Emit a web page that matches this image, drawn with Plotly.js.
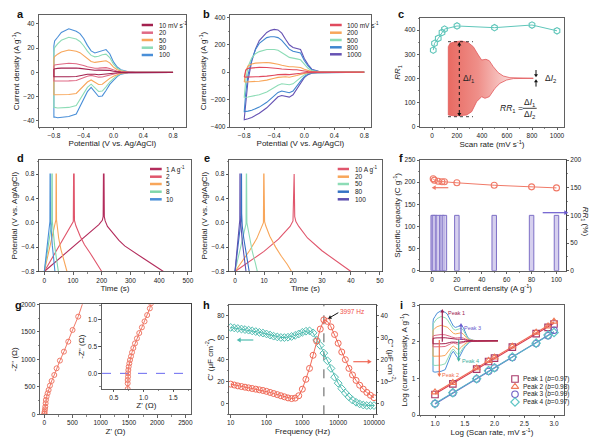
<!DOCTYPE html>
<html>
<head>
<meta charset="utf-8">
<script src="https://cdn.plot.ly/plotly-3.0.1.min.js"></script>
<style>
html,body{margin:0;padding:0;background:#fff;}
#chart{width:600px;height:441px;}
</style>
</head>
<body>
<div id="chart"></div>
<script>
// ================= DATA =================
// (a) CV at 10-100 mV/s
const potA = [-0.8, -0.79, -0.75, -0.7, -0.6, -0.5, -0.45, -0.4, -0.35, -0.3, -0.25, -0.2, -0.15, -0.1, -0.05, 0.0, 0.05, 0.1, 0.2, 0.3, 0.8];
const a100Up = [22, 26, 29, 33, 36, 34, 32, 28, 22.3, 17.7, 16, 16.8, 18.2, 18.8, 15.4, 8.6, 4.4, 2.2, 0.5, 0, 0];
const a100Dn = [-37, -37, -37.5, -37.5, -36.5, -34.5, -29, -22, -16, -12.5, -16, -20, -19.5, -15, -10, -6.6, -3.5, -1.5, -0.3, 0, 0];
const a80Up = [17, 20.5, 23.5, 26.5, 29, 27.5, 25.5, 22, 17.5, 14, 12.8, 13.3, 14.5, 15, 12.2, 6.8, 3.4, 1.7, 0.3, 0, 0];
const a80Dn = [-29, -29, -29.5, -29.5, -29, -27.5, -23, -17.5, -12.5, -9.8, -12.5, -15.8, -15.5, -12, -8, -5.2, -2.7, -1.1, -0.2, 0, 0];
const a50Up = [11.5, 13, 15, 16.8, 18.5, 17.5, 16.3, 14, 11.2, 9, 8.2, 8.5, 9.3, 9.6, 7.8, 4.3, 2.2, 1.0, 0.2, 0, 0];
const a50Dn = [-18.5, -18.5, -18.7, -18.7, -18.3, -17.5, -14.7, -11.2, -8, -6.3, -8, -10, -9.8, -7.6, -5, -3.3, -1.7, -0.7, -0.1, 0, 0];
const a20Up = [5.5, 6, 6.5, 7, 7.5, 7.1, 6.6, 5.7, 4.6, 3.7, 3.4, 3.5, 3.8, 3.9, 3.2, 1.8, 0.9, 0.4, 0.1, 0, 0];
const a20Dn = [-7.2, -7.2, -7.3, -7.3, -7.1, -6.8, -5.8, -4.4, -3.2, -2.5, -3.2, -4, -3.9, -3, -2, -1.3, -0.7, -0.3, 0, 0, 0];
const a10Up = [2.8, 3.0, 3.3, 3.5, 3.8, 3.6, 3.3, 2.9, 2.3, 1.9, 1.7, 1.8, 1.9, 2.0, 1.6, 0.9, 0.5, 0.2, 0, 0, 0];
const a10Dn = [-3.6, -3.6, -3.7, -3.7, -3.6, -3.4, -2.9, -2.2, -1.6, -1.3, -1.6, -2, -2, -1.5, -1, -0.7, -0.4, -0.2, 0, 0, 0];
const legA = ["10 mV s<sup>-1</sup>", "20", "50", "80", "100"];

// (b) CV at 100-1000 mV/s
const potB = [-0.8, -0.78, -0.75, -0.7, -0.65, -0.6, -0.5, -0.45, -0.4, -0.35, -0.3, -0.25, -0.2, -0.15, -0.1, -0.05, 0.0, 0.05, 0.1, 0.2, 0.3, 0.8];
const b1000Up = [-340, -200, -60, 80, 170, 230, 290, 305, 312, 308, 285, 240, 200, 180, 175, 165, 100, 55, 22, 4, 0, 0];
const b1000Dn = [-348, -345, -340, -330, -318, -300, -260, -235, -205, -180, -170, -178, -182, -165, -125, -80, -40, -18, -7, -1, 0, 0];
const b800Up = [-285, -150, -20, 90, 165, 210, 252, 258, 258, 252, 232, 200, 168, 152, 148, 140, 85, 45, 18, 3, 0, 0];
const b800Dn = [-288, -287, -284, -278, -268, -255, -220, -200, -172, -148, -138, -145, -150, -138, -102, -65, -32, -14, -5, -1, 0, 0];
const b500Up = [-182, -60, 40, 105, 135, 150, 165, 167, 165, 160, 145, 125, 108, 100, 97, 90, 55, 28, 11, 2, 0, 0];
const b500Dn = [-183, -183, -181, -178, -172, -165, -145, -132, -112, -95, -85, -88, -92, -85, -63, -40, -20, -8, -3, 0, 0, 0];
const b200Up = [-72, 10, 45, 60, 66, 69, 70, 68, 64, 58, 50, 43, 40, 39, 38, 34, 22, 10, 4, 0.5, 0, 0];
const b200Dn = [-72, -72, -72, -71, -69, -66, -58, -52, -45, -38, -33, -33, -37, -33, -25, -16, -8, -3, -1, 0, 0, 0];
const b100Up = [-36, 15, 28, 32, 34, 35, 34, 33, 30, 27, 23, 20, 18.5, 18, 17.5, 15, 9, 4, 1.5, 0, 0, 0];
const b100Dn = [-36, -36, -35.5, -35, -34, -32.5, -29, -26, -22, -18, -15.5, -16, -18, -16, -12, -8, -4, -1.5, -0.5, 0, 0, 0];
const legB = ["100 mV s<sup>-1</sup>", "200", "500", "800", "1000"];

// (c) RR1 vs scan rate + schematic outline
const scanRates = [10, 20, 50, 80, 100, 200, 500, 800, 1000];
const rr1 = [317, 345, 366, 390, 404, 417, 410, 421, 397];
const schemUpX = [0, 2, 7.9, 15.7, 23.5, 29.4, 35.3, 39.2, 44.3, 48.2, 52.9, 58.8, 64.7, 72.5, 100];
const schemUpY = [31.6, 35, 36.6, 37.3, 35.6, 31.6, 23.3, 18.3, 19, 17.6, 11.6, 5.6, 2.3, 0.6, 0];
const schemDnX = [0, 7.9, 21.6, 27.5, 33.3, 39.2, 43.1, 48.2, 54.9, 60.8, 68.6, 76.5, 100];
const schemDnY = [-36.7, -37.7, -36.7, -33.4, -23.4, -18.4, -20, -18.4, -10, -5, -1.7, -0.3, 0];

// (d) GCD 1-10 A/g
const d1T = [0, 50, 100, 150, 190, 202, 205, 206, 208, 209, 212, 220, 240, 260, 280, 310, 350, 415];
const d1V = [-0.8, -0.6, -0.39, -0.19, -0.03, 0.04, 0.1, 0.8, 0.8, 0.1, 0.03, -0.06, -0.18, -0.29, -0.38, -0.47, -0.6, -0.8];
const d2T = [0, 25, 50, 75, 95, 101, 102, 104, 105, 110, 125, 140, 160, 180, 200];
const d2V = [-0.8, -0.6, -0.4, -0.2, -0.04, 0.02, 0.8, 0.8, 0.04, -0.05, -0.22, -0.36, -0.5, -0.64, -0.8];
const d5T = [0, 10, 20, 30, 38, 40.5, 41, 42, 42.5, 45, 50, 58, 68, 79];
const d5V = [-0.8, -0.6, -0.4, -0.2, -0.03, 0.05, 0.8, 0.8, 0.05, -0.08, -0.25, -0.44, -0.61, -0.8];
const d8T = [0, 7, 14, 21, 26, 26.5, 27.5, 28, 31, 36, 42, 49];
const d8V = [-0.8, -0.6, -0.4, -0.18, 0.0, 0.8, 0.8, 0.02, -0.17, -0.38, -0.58, -0.8];
const d10T = [0, 5, 10, 15, 19.5, 20, 21, 21.5, 24, 28, 32, 37];
const d10V = [-0.8, -0.6, -0.4, -0.19, 0.02, 0.8, 0.8, 0.05, -0.15, -0.38, -0.56, -0.8];
const legD = ["1 A g<sup>-1</sup>", "2", "5", "8", "10"];

// (e) GCD 10-100 A/g
const e10T = [0, 5, 10, 15, 19, 20, 20.2, 20.4, 20.6, 21, 22, 25, 30, 35, 40];
const e10V = [-0.8, -0.64, -0.47, -0.27, -0.06, 0.03, 0.8, 0.8, 0.1, 0.02, -0.06, -0.25, -0.46, -0.63, -0.8];
const e20T = [0, 2.5, 5, 7.5, 9.4, 9.8, 9.9, 10.0, 10.2, 10.6, 12, 14, 16, 18, 19.5];
const e20V = [-0.8, -0.63, -0.46, -0.26, -0.06, 0.0, 0.8, 0.8, 0.02, -0.05, -0.22, -0.4, -0.55, -0.68, -0.8];
const e50T = [0, 1, 2, 3, 3.8, 3.9, 4.0, 4.1, 4.3, 5, 6, 7, 7.7];
const e50V = [-0.8, -0.6, -0.4, -0.2, -0.02, 0.8, 0.8, 0.0, -0.05, -0.25, -0.48, -0.66, -0.8];
const e80T = [0, 0.6, 1.2, 1.8, 2.1, 2.15, 2.25, 2.3, 2.5, 3, 3.5, 4.2, 4.9];
const e80V = [-0.8, -0.58, -0.35, -0.12, 0.05, 0.8, 0.8, 0.15, -0.05, -0.25, -0.42, -0.6, -0.8];
const e100T = [0, 0.5, 1.0, 1.4, 1.65, 1.7, 1.75, 1.8, 2.0, 2.5, 3.0, 3.8];
const e100V = [-0.8, -0.56, -0.32, -0.1, 0.05, 0.8, 0.8, 0.1, -0.08, -0.3, -0.5, -0.8];
const legE = ["10 A g<sup>-1</sup>", "20", "50", "80", "100"];

// (f) specific capacity & RR1
const currDens = [1, 2, 5, 8, 10, 20, 50, 80, 100];
const specCap = [207.6, 204.5, 202, 201, 201, 198.5, 193, 189.4, 187];
const rrPct = [100, 100, 100, 100, 100, 100, 100, 100, 100];

// (g) Nyquist
const zRe = [1, 4, 6, 12, 18, 24, 29, 41, 59, 77, 100, 130, 177, 218, 277, 348, 425, 501, 601, 740];
const zIm = [6, 18, 48, 91, 139, 200, 261, 321, 382, 442, 521, 606, 715, 836, 976, 1139, 1321, 1533, 1776, 2200];
const zReIn = [0.733, 0.733, 0.733, 0.739, 0.739, 0.744, 0.75, 0.761, 0.772, 0.789, 0.806, 0.828, 0.856, 0.889, 0.928, 0.972, 1.017, 1.061, 1.106, 1.128];
const zImIn = [-0.29, -0.185, -0.123, -0.062, 0.0, 0.062, 0.123, 0.185, 0.247, 0.315, 0.389, 0.469, 0.556, 0.648, 0.747, 0.852, 0.963, 1.080, 1.204, 1.30];

// (h) capacitance vs frequency
const freqH = [10, 12.6, 15.8, 20, 25.1, 31.6, 39.8, 50.1, 63.1, 79.4, 100, 126, 158, 200, 251, 316, 398, 501, 631, 794, 1000, 1259, 1585, 1995, 2512, 3162, 3981, 5012, 6310, 7943, 10000, 12589, 15849, 19953, 25119, 31623, 39811, 50119, 63096, 79433, 100000];
const cReal = [69.5, 69, 68.5, 68, 67.5, 67, 66.3, 65.7, 65, 64.3, 63.5, 62.5, 61.5, 60.8, 60.3, 60.2, 60.5, 61.2, 62.2, 63.5, 65, 66, 66.3, 64.5, 58, 53, 46, 39, 32, 24, 18.5, 13.5, 9.5, 6, 3, 1, -0.5, -1.5, -2, -2, -2];
const cImag = [8.8, 8.4, 8.0, 7.7, 7.4, 7.1, 6.8, 6.5, 6.2, 5.9, 5.5, 5.0, 4.5, 4.0, 3.5, 3.0, 2.5, 2.2, 2.4, 3.5, 6.5, 11, 16, 22, 28.5, 34, 38.2, 37.5, 35, 31.5, 27.5, 23.5, 20, 16, 13, 10.5, 8.3, 6.5, 5, 3.7, 2.6];
const peakFreq = 3997;

// (i) b-value analysis
const logScan = [1.0, 1.3, 1.7, 1.9, 2.0, 2.3, 2.7, 2.9, 3.0];
const peak1 = [0.56, 0.85, 1.25, 1.46, 1.55, 1.85, 2.22, 2.39, 2.48];
const peak2 = [0.62, 0.88, 1.28, 1.48, 1.57, 1.87, 2.25, 2.42, 2.55];
const peak3 = [0.31, 0.60, 0.98, 1.19, 1.28, 1.57, 1.95, 2.16, 2.31];
const peak4 = [0.31, 0.61, 0.99, 1.21, 1.29, 1.58, 1.96, 2.18, 2.25];
const peakLabels = ["Peak 1 (<i>b</i>=0.97)", "Peak 2 (<i>b</i>=0.98)", "Peak 3 (<i>b</i>=0.99)", "Peak 4 (<i>b</i>=0.97)"];

// ================= STYLE / HELPERS =================
const W = 600, H = 441;
const FONT = 'Liberation Sans, Arial, Helvetica, sans-serif';
const AXC = '#3a3a3a';
const TXT = '#222';
const dx = (a, b) => [a / W, b / W];
const dy = (top, bot) => [1 - bot / H, 1 - top / H];

function axis(o) {
  const r = {
    showline: true, linecolor: AXC, linewidth: 0.8, mirror: true,
    ticks: 'outside', ticklen: 2.5, tickwidth: 0.8, tickcolor: AXC,
    tickfont: {size: 6.5, color: TXT, family: FONT},
    showgrid: false, zeroline: false, automargin: false, fixedrange: true
  };
  for (const k in o) {
    if (k === 'titleText' || k === 'standoff' || k === 'minorDtick') continue;
    r[k] = o[k];
  }
  if (o.titleText !== undefined) r.title = {text: o.titleText, font: {size: 8, color: TXT, family: FONT}, standoff: o.standoff !== undefined ? o.standoff : 2};
  if (o.minorDtick !== undefined) r.minor = {dtick: o.minorDtick, ticks: 'outside', ticklen: 1.5, tickwidth: 0.6, tickcolor: AXC, showgrid: false};
  return r;
}
function hidden(domX, domY, rx, ry) {
  return [{domain: domX, range: rx, visible: false, fixedrange: true}, {domain: domY, range: ry, visible: false, fixedrange: true}];
}

const data = [];
function loop(E, up, dn, color, xa, ya, w) {
  data.push({type: 'scatter', mode: 'lines', x: [...E, ...E.slice().reverse(), E[0]], y: [...up, ...dn.slice().reverse(), up[0]],
    xaxis: xa, yaxis: ya, line: {color: color, width: w || 1.1}, hoverinfo: 'skip', showlegend: false});
}
function line(x, y, color, xa, ya, w) {
  data.push({type: 'scatter', mode: 'lines', x: x, y: y, xaxis: xa, yaxis: ya, line: {color: color, width: w || 1.1}, hoverinfo: 'skip', showlegend: false});
}

const annotations = [];
const shapes = [];
const PX = (x, y) => (x / W) + ' ' + (1 - y / H);
function txt(text, x, y, o) {
  annotations.push(Object.assign({text: text, x: x / W, y: 1 - y / H, xref: 'paper', yref: 'paper', showarrow: false,
    font: {family: FONT, size: 6.5, color: TXT}, xanchor: 'center', yanchor: 'middle'}, o || {}));
}
function seg(x0, y0, x1, y1, color, w, dash) {
  shapes.push({type: 'line', xref: 'paper', yref: 'paper', x0: x0 / W, x1: x1 / W, y0: 1 - y0 / H, y1: 1 - y1 / H,
    line: {color: color, width: w || 1, dash: dash || 'solid'}});
}
function head(xt, yt, ux, uy, color, hl, hw) {
  const bx = xt - ux * hl, by = yt - uy * hl, nx = -uy, ny = ux;
  shapes.push({type: 'path', xref: 'paper', yref: 'paper',
    path: 'M ' + PX(xt, yt) + ' L ' + PX(bx + nx * hw, by + ny * hw) + ' L ' + PX(bx - nx * hw, by - ny * hw) + ' Z',
    fillcolor: color, line: {width: 0}});
}
function arr(x0, y0, x1, y1, color, w, hl, hw) {
  hl = hl || 4; hw = hw || 2.4;
  const L = Math.hypot(x1 - x0, y1 - y0), ux = (x1 - x0) / L, uy = (y1 - y0) / L;
  seg(x0, y0, x1 - ux * hl * 0.8, y1 - uy * hl * 0.8, color, w || 1);
  head(x1, y1, ux, uy, color, hl, hw);
}
function legendLines(labels, colors, xl0, xl1, xt, rows, lw) {
  labels.forEach((lab, i) => {
    seg(xl0, rows[i], xl1, rows[i], colors[i], lw || 2.5);
    txt(lab, xt, rows[i], {xanchor: 'left'});
  });
}

// ================= TRACES =================
const colA = ['#a3214f', '#e06a85', '#f8a65a', '#8ddcb6', '#4a8fd8'];
const colB = ['#e04a5e', '#f8a65a', '#8ddcb6', '#3f86cf', '#6652b3'];
const colD = ['#b32c5c', '#e0566c', '#f8a65a', '#7fd6aa', '#4a8fd8'];
const colE = ['#e0566c', '#f8a65a', '#8ddcb6', '#3572c4', '#5e50b0'];

// (a)
loop(potA, a100Up, a100Dn, colA[4], 'x', 'y');
loop(potA, a80Up, a80Dn, colA[3], 'x', 'y');
loop(potA, a50Up, a50Dn, colA[2], 'x', 'y');
loop(potA, a20Up, a20Dn, colA[1], 'x', 'y');
loop(potA, a10Up, a10Dn, colA[0], 'x', 'y');
// (b)
loop(potB, b1000Up, b1000Dn, colB[4], 'x2', 'y2');
loop(potB, b800Up, b800Dn, colB[3], 'x2', 'y2');
loop(potB, b500Up, b500Dn, colB[2], 'x2', 'y2');
loop(potB, b200Up, b200Dn, colB[1], 'x2', 'y2');
loop(potB, b100Up, b100Dn, colB[0], 'x2', 'y2');
// (c) schematic + RR1
data.push({type: 'scatter', mode: 'lines', xaxis: 'x13', yaxis: 'y13', hoverinfo: 'skip', showlegend: false,
  x: [...schemUpX, ...schemDnX.slice().reverse(), schemUpX[0]],
  y: [...schemUpY, ...schemDnY.slice().reverse(), schemUpY[0]],
  fill: 'toself', fillcolor: '#f29a94',
  fillgradient: {type: 'horizontal', colorscale: [[0, '#e86a62'], [0.35, '#ef8f89'], [0.7, '#f9d2d0'], [1, '#fdeeee']]},
  line: {color: '#e2585a', width: 0.8}});
data.push({type: 'scatter', mode: 'lines+markers', x: scanRates, y: rr1, xaxis: 'x3', yaxis: 'y3', hoverinfo: 'skip', showlegend: false,
  line: {color: '#5fc6ba', width: 1}, marker: {symbol: 'hexagon-open', size: 6.5, color: '#5fc6ba', line: {width: 1.1}}});
// (d)
line(d1T, d1V, colD[0], 'x4', 'y4');
line(d2T, d2V, colD[1], 'x4', 'y4');
line(d5T, d5V, colD[2], 'x4', 'y4');
line(d8T, d8V, colD[3], 'x4', 'y4');
line(d10T, d10V, colD[4], 'x4', 'y4');
// (e)
line(e10T, e10V, colE[0], 'x5', 'y5');
line(e20T, e20V, colE[1], 'x5', 'y5');
line(e50T, e50V, colE[2], 'x5', 'y5');
line(e80T, e80V, colE[3], 'x5', 'y5');
line(e100T, e100V, colE[4], 'x5', 'y5');
// (f)
data.push({type: 'bar', x: currDens, y: rrPct, xaxis: 'x6', yaxis: 'y10', width: 3.6, hoverinfo: 'skip', showlegend: false,
  marker: {color: 'rgba(200,192,232,0.75)', line: {color: '#7d6fc6', width: 1}}});
data.push({type: 'scatter', mode: 'lines+markers', x: currDens, y: specCap, xaxis: 'x6', yaxis: 'y6', hoverinfo: 'skip', showlegend: false,
  line: {color: '#f07a68', width: 1}, marker: {symbol: 'circle-open', size: 6, color: '#f07a68', line: {width: 1.1}}});
// (g)
data.push({type: 'scatter', mode: 'lines+markers', x: zRe, y: zIm, xaxis: 'x7', yaxis: 'y7', hoverinfo: 'skip', showlegend: false,
  line: {color: '#f07a68', width: 1}, marker: {symbol: 'circle-open', size: 5, color: '#f07a68', line: {width: 1}}});
data.push({type: 'scatter', mode: 'lines', x: [0.3, 1.8], y: [0, 0], xaxis: 'x12', yaxis: 'y12', hoverinfo: 'skip', showlegend: false,
  line: {color: '#6a6af0', width: 1, dash: 'dash'}});
data.push({type: 'scatter', mode: 'lines+markers', x: zReIn, y: zImIn, xaxis: 'x12', yaxis: 'y12', hoverinfo: 'skip', showlegend: false,
  line: {color: '#f07a68', width: 1}, marker: {symbol: 'circle-open', size: 5, color: '#f07a68', line: {width: 1}}});
// (h)
data.push({type: 'scatter', mode: 'lines', x: [peakFreq, peakFreq], y: [-10, 90], xaxis: 'x8', yaxis: 'y8', hoverinfo: 'skip', showlegend: false,
  line: {color: '#444', width: 0.9, dash: 'dash'}});
data.push({type: 'scatter', mode: 'lines+markers', x: freqH, y: cReal, xaxis: 'x8', yaxis: 'y8', hoverinfo: 'skip', showlegend: false,
  line: {color: '#4fbcb0', width: 1}, marker: {symbol: 'diamond-open', size: 6, color: '#4fbcb0', line: {width: 1}}});
data.push({type: 'scatter', mode: 'lines+markers', x: freqH, y: cImag, xaxis: 'x8', yaxis: 'y11', hoverinfo: 'skip', showlegend: false,
  line: {color: '#f06a58', width: 1}, marker: {symbol: 'circle-open', size: 6, color: '#f06a58', line: {width: 1}}});
// (i) fits + points
function fit(xs, ys) {
  const n = xs.length; let sx = 0, sy = 0, sxx = 0, sxy = 0;
  for (let k = 0; k < n; k++) { sx += xs[k]; sy += ys[k]; sxx += xs[k] * xs[k]; sxy += xs[k] * ys[k]; }
  const m = (n * sxy - sx * sy) / (n * sxx - sx * sx); const b = (sy - m * sx) / n;
  return [m * xs[0] + b, m * xs[n - 1] + b];
}
const peaks = [peak1, peak2, peak3, peak4];
const pkSym = ['square-open', 'triangle-up-open', 'circle-open', 'diamond-open'];
const pkCol = ['#a8386a', '#f07a5a', '#6c5cc4', '#5cc4c4'];
const fitCol = ['#d83a50', '#f06a55', '#6a66c4', '#58b6c8'];
peaks.forEach((p, k) => {
  line([logScan[0], logScan[logScan.length - 1]], fit(logScan, p), fitCol[k], 'x9', 'y9', 1.1);
});
peaks.forEach((p, k) => {
  data.push({type: 'scatter', mode: 'markers', x: logScan, y: p, xaxis: 'x9', yaxis: 'y9', hoverinfo: 'skip', showlegend: false,
    marker: {symbol: pkSym[k], size: 6.5, color: pkCol[k], line: {width: 1.1}}});
});
// (i) inset: reuse panel (a) CVs
loop(potA, a100Up, a100Dn, colA[4], 'x14', 'y14', 1);
loop(potA, a80Up, a80Dn, colA[3], 'x14', 'y14', 1);
loop(potA, a50Up, a50Dn, colA[2], 'x14', 'y14', 1);
loop(potA, a20Up, a20Dn, colA[1], 'x14', 'y14', 1);
loop(potA, a10Up, a10Dn, colA[0], 'x14', 'y14', 1);
// (i) legend markers (pixel overlay)
const legRowsI = [379, 386.7, 394.3, 402];
peaks.forEach((p, k) => {
  data.push({type: 'scatter', mode: 'markers', x: [515], y: [legRowsI[k]], xaxis: 'x15', yaxis: 'y15', hoverinfo: 'skip', showlegend: false,
    marker: {symbol: pkSym[k], size: 6.5, color: pkCol[k], line: {width: 1.1}}});
  txt(peakLabels[k], 520.5, legRowsI[k], {xanchor: 'left'});
});

// ================= LEGENDS / ANNOTATIONS =================
legendLines(legA, colA, 141.7, 153, 156.7, [25, 32.7, 40, 47.7, 55]);
legendLines(legB, colB, 330, 341.7, 345, [25, 32.7, 40, 47.3, 54.3]);
legendLines(legD, colD, 150, 161.7, 164, [169, 176.7, 184, 191.7, 199.3]);
legendLines(legE, colE, 337.7, 349, 353, [169, 176.7, 184, 191.7, 199.3]);

// panel letters
[['a', 20.7, 14], ['b', 206.7, 14], ['c', 401, 14], ['d', 20, 157.7], ['e', 206.7, 157.7], ['f', 401, 157.7],
 ['g', 18.3, 305], ['h', 207, 305], ['i', 401, 305]].forEach(l => txt('<b>' + l[0] + '</b>', l[1], l[2], {font: {family: FONT, size: 11, color: '#111'}}));

// (c) schematic annotations
seg(459.3, 44, 459.3, 114.5, '#111', 1, 'dot');
seg(448, 41.7, 473, 41.7, '#111', 0.8, 'dot');
seg(448, 116.7, 473, 116.7, '#111', 0.8, 'dot');
head(459.3, 41.9, 0, -1, '#111', 3.5, 2);
head(459.3, 116.5, 0, 1, '#111', 3.5, 2);
txt('Δ<i>I</i><sub>1</sub>', 468.5, 78.3, {font: {family: FONT, size: 8.5, color: TXT}});
arr(536, 70, 536, 77.3, '#111', 1, 3, 2);
arr(536, 86.6, 536, 79.3, '#111', 1, 3, 2);
txt('Δ<i>I</i><sub>2</sub>', 550, 78.3, {font: {family: FONT, size: 8.5, color: TXT}});
txt('<i>RR</i><sub>1</sub> =', 511.5, 108.3, {font: {family: FONT, size: 8.5, color: TXT}});
txt('Δ<i>I</i><sub>1</sub>', 529.5, 102.5, {font: {family: FONT, size: 8.5, color: TXT}});
seg(522.7, 108.3, 536.7, 108.3, '#111', 0.8);
txt('Δ<i>I</i><sub>2</sub>', 529.5, 114.5, {font: {family: FONT, size: 8.5, color: TXT}});

// (f) arrows + right title
arr(448.3, 187.7, 431.7, 187.7, '#f07a68', 1.2);
arr(542.7, 212.7, 568.3, 212.7, '#6a5acd', 1.2);
txt('<i>RR</i><sub>1</sub> (%)', 585, 221.7, {textangle: 90, font: {family: FONT, size: 8, color: TXT}});

// (h) arrows + labels + right title
arr(253.3, 340, 236.7, 340, '#4fbcb0', 1.2);
arr(353.3, 361.7, 371.7, 361.7, '#f06a58', 1.2);
arr(338.3, 312.7, 328, 318.7, '#111', 1, 3.5, 2);
txt('3997 Hz', 351.7, 311.5, {font: {family: FONT, size: 6.5, color: '#f0504a'}});
txt("C'' (μF cm<sup>-2</sup>)", 391.5, 360, {textangle: 90, font: {family: FONT, size: 8, color: TXT}});

// (i) inset arrows + labels
arr(442.3, 341.7, 442.3, 309, '#9c2050', 1.2, 3.5, 2);
arr(439.3, 340, 439.3, 377, '#f07050', 1.2, 3.5, 2);
arr(461, 340, 461, 323, '#6a5acd', 1.2, 3.5, 2);
arr(458.7, 340, 458.7, 361.7, '#40b0a0', 1.2, 3.5, 2);
txt('Peak 1', 456, 312.7, {font: {family: FONT, size: 5.5, color: '#9c2050'}});
txt('Peak 2', 450, 375, {font: {family: FONT, size: 5.5, color: '#f07050'}});
txt('Peak 3', 472, 327.7, {font: {family: FONT, size: 5.5, color: '#6a5acd'}});
txt('Peak 4', 470.5, 360.7, {font: {family: FONT, size: 5.5, color: '#40b0a0'}});

// ================= LAYOUT =================
const ttlCD = 'Current density (A g<sup>-1</sup>)';
const ttlPot = 'Potential (V vs. Ag/AgCl)';
const layout = {
  width: W, height: H, margin: {l: 0, r: 0, t: 0, b: 0},
  paper_bgcolor: '#fff', plot_bgcolor: 'rgba(0,0,0,0)',
  font: {family: FONT, color: TXT}, showlegend: false, dragmode: false,
  // a
  xaxis: axis({domain: dx(39, 185.7), anchor: 'y', range: [-1.0, 0.97], tickvals: [-0.8, -0.4, 0, 0.4, 0.8], tickformat: '.1f', minorDtick: 0.2, titleText: ttlPot}),
  yaxis: axis({domain: dy(15, 127), anchor: 'x', range: [-45.2, 47.4], dtick: 20, minorDtick: 10, titleText: ttlCD}),
  // b
  xaxis2: axis({domain: dx(230, 370.7), anchor: 'y2', range: [-0.99, 0.885], tickvals: [-0.8, -0.4, 0, 0.4, 0.8], tickformat: '.1f', minorDtick: 0.2, titleText: ttlPot}),
  yaxis2: axis({domain: dy(15, 127), anchor: 'x2', range: [-400, 417], dtick: 200, minorDtick: 100, titleText: ttlCD}),
  // c
  xaxis3: axis({domain: dx(420, 564), anchor: 'y3', range: [-96, 1056], dtick: 200, minorDtick: 100, titleText: 'Scan rate (mV s<sup>-1</sup>)'}),
  yaxis3: axis({domain: dy(18, 126.7), anchor: 'x3', range: [0, 450], dtick: 100, minorDtick: 50, titleText: '<i>RR</i><sub>1</sub>'}),
  // d
  xaxis4: axis({domain: dx(39, 191), anchor: 'y4', range: [-18.5, 511], dtick: 100, minorDtick: 50, titleText: 'Time (s)'}),
  yaxis4: axis({domain: dy(160, 271.5), anchor: 'x4', range: [-0.8, 1.03], tickvals: [-0.8, -0.4, 0, 0.4, 0.8], tickformat: '.1f', minorDtick: 0.2, titleText: ttlPot}),
  // e
  xaxis5: axis({domain: dx(229, 382), anchor: 'y5', range: [-2.07, 50.7], dtick: 10, minorDtick: 5, titleText: 'Time (s)'}),
  yaxis5: axis({domain: dy(160, 271.5), anchor: 'x5', range: [-0.8, 1.03], tickvals: [-0.8, -0.4, 0, 0.4, 0.8], tickformat: '.1f', minorDtick: 0.2, titleText: ttlPot}),
  // f
  xaxis6: axis({domain: dx(420, 565.7), anchor: 'y6', range: [-9.6, 107.4], dtick: 20, minorDtick: 10, titleText: ttlCD}),
  yaxis6: axis({domain: dy(160, 270.7), anchor: 'x6', range: [0, 250], dtick: 50, minorDtick: 25, titleText: 'Specific capacity (C g<sup>-1</sup>)'}),
  yaxis10: axis({domain: dy(160, 270.7), anchor: 'x6', overlaying: 'y6', side: 'right', range: [0, 200], dtick: 50, minorDtick: 25, mirror: false}),
  // g
  xaxis7: axis({domain: dx(40, 191), anchor: 'y7', range: [-76, 2600], dtick: 500, minorDtick: 250, titleText: "Z' (Ω)"}),
  yaxis7: axis({domain: dy(304.3, 414.3), anchor: 'x7', range: [0, 2000], dtick: 500, minorDtick: 250, titleText: "-Z'' (Ω)"}),
  xaxis12: axis({domain: dx(101.7, 191), anchor: 'y12', range: [0.295, 1.8], tickvals: [0.5, 1.0, 1.5], tickformat: '.1f', minorDtick: 0.25, titleText: "Z' (Ω)"}),
  yaxis12: axis({domain: dy(304.3, 389), anchor: 'x12', range: [-0.29, 1.28], tickvals: [0, 0.5, 1.0], tickformat: '.1f', minorDtick: 0.25, titleText: "-Z'' (Ω)"}),
  // h
  xaxis8: axis({domain: dx(229, 376), anchor: 'y8', type: 'log', range: [0.953, 5.056], tickvals: [10, 100, 1000, 10000, 100000], ticktext: ['10', '100', '1000', '10000', '100000'], titleText: 'Frequency (Hz)'}),
  yaxis8: axis({domain: dy(305, 414.3), anchor: 'x8', range: [-10, 90], dtick: 20, minorDtick: 10, titleText: "C' (μF cm<sup>-2</sup>)"}),
  yaxis11: axis({domain: dy(305, 414.3), anchor: 'x8', overlaying: 'y8', side: 'right', range: [-5, 45], dtick: 10, minorDtick: 5, mirror: false}),
  // i
  xaxis9: axis({domain: dx(420, 564), anchor: 'y9', range: [0.748, 3.168], tickvals: [1.0, 1.5, 2.0, 2.5, 3.0], tickformat: '.1f', minorDtick: 0.25, titleText: 'Log (Scan rate, mV s<sup>-1</sup>)'}),
  yaxis9: axis({domain: dy(305, 415), anchor: 'x9', range: [0, 3], dtick: 1, minorDtick: 0.5, titleText: 'Log (current density, A g<sup>-1</sup>)'}),
  annotations: annotations,
  shapes: shapes
};
// hidden overlay axes
[layout.xaxis13, layout.yaxis13] = hidden(dx(420, 565), dy(18, 127), [-33.3, 137.3], [-48.7, 60.3]);
layout.xaxis13.anchor = 'y13'; layout.yaxis13.anchor = 'x13';
[layout.xaxis14, layout.yaxis14] = hidden(dx(430, 500), dy(307, 376), [-0.874, 0.85], [-42.1, 40.4]);
layout.xaxis14.anchor = 'y14'; layout.yaxis14.anchor = 'x14';
[layout.xaxis15, layout.yaxis15] = hidden([0, 1], [0, 1], [0, 600], [441, 0]);
layout.xaxis15.anchor = 'y15'; layout.yaxis15.anchor = 'x15';

Plotly.newPlot('chart', data, layout, {staticPlot: true, displayModeBar: false});
</script>
</body>
</html>
